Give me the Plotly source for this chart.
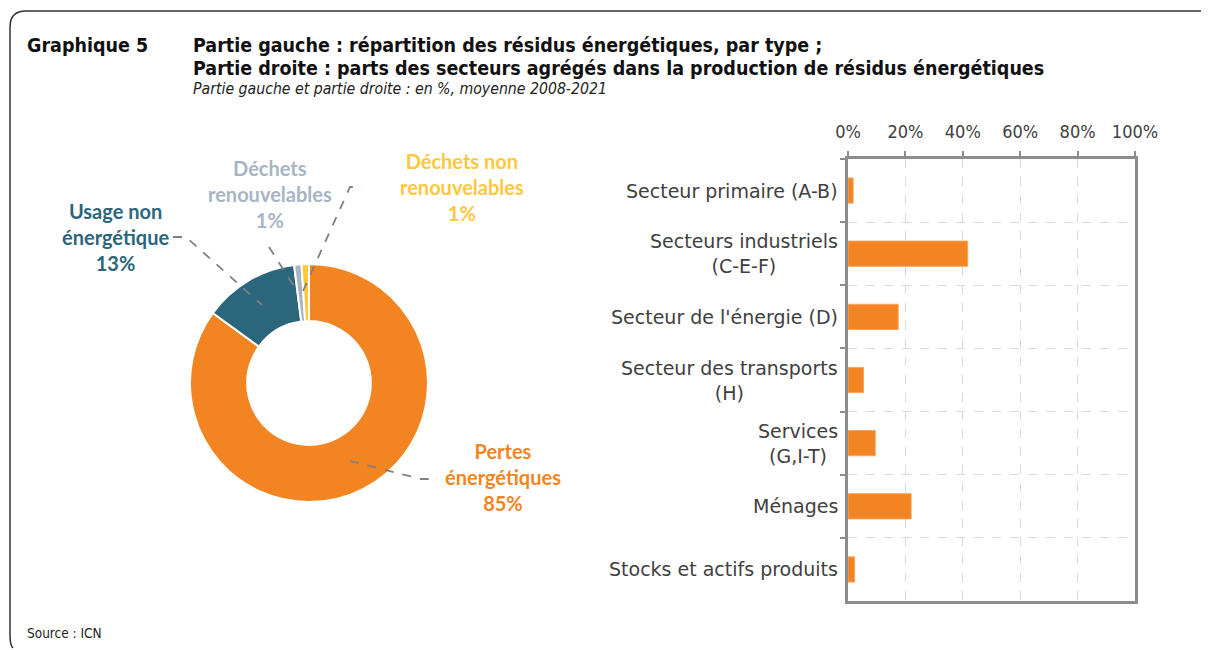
import plotly.graph_objects as go

# ---- Data ----
pie_labels = ["Pertes énergétiques", "Usage non énergétique", "Déchets renouvelables", "Déchets non renouvelables"]
pie_display = ["Pertes<br>énergétiques", "Usage non<br>énergétique", "Déchets<br>renouvelables", "Déchets non<br>renouvelables"]
pie_values = [85, 13, 1, 1]
pie_colors = ["#F28522", "#2C667C", "#A8B4C4", "#FFC73A"]

sectors = ["Secteur primaire (A-B)", "Secteurs industriels<br>(C-E-F)", "Secteur de l'énergie (D)",
           "Secteur des transports<br>(H)", "Services<br>(G,I-T)", "Ménages", "Stocks et actifs produits"]
sector_values = [1.8, 41.7, 17.5, 5.4, 9.5, 22.0, 2.3]
x_ticks = [0, 20, 40, 60, 80, 100]
x_tick_labels = ["0%", "20%", "40%", "60%", "80%", "100%"]

W, H = 1209, 650
OFF = 8  # page body margin offset
def px(x): return (x - OFF) / W
def py(y): return 1 - (y - OFF) / H

TITLE_FONT = "DejaVu Sans Condensed, sans-serif"
AX_FONT = "DejaVu Sans Condensed, sans-serif"
LBL_FONT = "DejaVu Sans, sans-serif"

fig = go.Figure()

# Donut
fig.add_trace(go.Pie(
    labels=pie_labels, values=pie_values, hole=0.52, sort=False, direction="clockwise", rotation=0,
    marker=dict(colors=pie_colors, line=dict(color="white", width=2)),
    textinfo="none", showlegend=False, automargin=False,
    domain=dict(x=[px(190), px(428)], y=[py(502), py(264)]),
))

# Bars
fig.add_trace(go.Bar(
    x=sector_values, y=sectors, orientation="h", width=0.4,
    marker=dict(color="#F28522", line=dict(color="#F7A55E", width=1)),
    showlegend=False, xaxis="x", yaxis="y",
))

grid = "#D9D9D9"
fig.update_layout(
    template="none",
    width=W, height=H, margin=dict(l=0, r=0, t=0, b=0, pad=0, autoexpand=False),
    paper_bgcolor="white", plot_bgcolor="white",
    font=dict(family=AX_FONT, color="#404040"),
    xaxis=dict(domain=[px(848), px(1135)], range=[0, 100], side="top", automargin=False,
               tickvals=x_ticks, ticktext=x_tick_labels, ticklabelstandoff=6,
               tickfont=dict(size=18, color="#404040", family=AX_FONT),
               showgrid=True, gridcolor=grid, griddash="dash", gridwidth=1,
               showline=True, linecolor="#8C8C8C", linewidth=2.5, mirror=True,
               ticks="outside", ticklen=5, tickcolor="#8C8C8C", tickwidth=2,
               zeroline=False, fixedrange=True),
    yaxis=dict(domain=[py(601), py(159)], autorange="reversed", type="category", automargin=False,
               showticklabels=False, tickson="boundaries",
               showgrid=True, gridcolor=grid, griddash="dash", gridwidth=1,
               showline=True, linecolor="#8C8C8C", linewidth=2.5, mirror=True,
               ticks="outside", ticklen=5, tickcolor="#8C8C8C", tickwidth=2,
               zeroline=False, fixedrange=True),
    bargap=0.6,
)

ann = []
# Sector labels (centered multi-line, right aligned to axis)
for s in sectors:
    ann.append(dict(x=0, xref="x", y=s, yref="y", xanchor="right", yanchor="middle", xshift=-8,
                    text=s, showarrow=False, align="center",
                    font=dict(size=19, color="#404040", family=LBL_FONT)))

# Titles
ann.append(dict(x=px(25), y=py(45), xref="paper", yref="paper", xanchor="left", yanchor="middle",
                text="<b>Graphique 5</b>", showarrow=False,
                font=dict(size=19.5, color="#111111", family=TITLE_FONT)))
ann.append(dict(x=px(191), y=py(45), xref="paper", yref="paper", xanchor="left", yanchor="middle",
                text="<b>Partie gauche : répartition des résidus énergétiques, par type ;</b>", showarrow=False,
                font=dict(size=19.5, color="#111111", family=TITLE_FONT)))
ann.append(dict(x=px(191), y=py(68), xref="paper", yref="paper", xanchor="left", yanchor="middle",
                text="<b>Partie droite : parts des secteurs agrégés dans la production de résidus énergétiques</b>", showarrow=False,
                font=dict(size=19.5, color="#111111", family=TITLE_FONT)))
ann.append(dict(x=px(191), y=py(88), xref="paper", yref="paper", xanchor="left", yanchor="middle",
                text="<i>Partie gauche et partie droite : en %, moyenne 2008-2021</i>", showarrow=False,
                font=dict(size=15.7, color="#222222", family=TITLE_FONT)))
ann.append(dict(x=px(25), y=py(633), xref="paper", yref="paper", xanchor="left", yanchor="middle",
                text="Source : ICN", showarrow=False,
                font=dict(size=13.5, color="#222222", family=TITLE_FONT)))

# Donut labels
label_pos = [(503, 477), (115, 237), (270, 194), (462, 187)]
for (cx, cy), t, v, c in zip(label_pos, pie_display, pie_values, pie_colors):
    ann.append(dict(x=px(cx), y=py(cy), xref="paper", yref="paper", xanchor="center", yanchor="middle",
                    text=f"<b>{t}<br>{v}%</b>", showarrow=False, align="center",
                    font=dict(size=20, color=c, family="Lato, sans-serif")))
fig.update_layout(annotations=ann)

# Leader lines & frame
def path(pts):
    return "M " + " L ".join(f"{px(x)},{py(y)}" for x, y in pts)
leaders = [
    [(350, 461), (421, 479), (436, 479)],
    [(173, 237), (186, 237), (262, 305)],
    [(269, 247), (297, 291)],
    [(303, 291), (350, 187), (362, 187)],
]
shapes = []
for pts in leaders:
    shapes.append(dict(type="path", xref="paper", yref="paper", path=path(pts),
                       line=dict(color="#7F7F7F", width=1.8, dash="dash")))
# outer frame with rounded top-left corner
shapes.append(dict(type="path", xref="paper", yref="paper",
                   path=f"M {px(13)},{py(648)} Q {px(10)},{py(645)} {px(10)},{py(636)} L {px(10)},{py(27)} Q {px(10)},{py(11)} {px(26)},{py(11)} L {px(1215)},{py(11)}",
                   line=dict(color="#333333", width=1.5)))
fig.update_layout(shapes=shapes)

fig.write_html("out.html")
